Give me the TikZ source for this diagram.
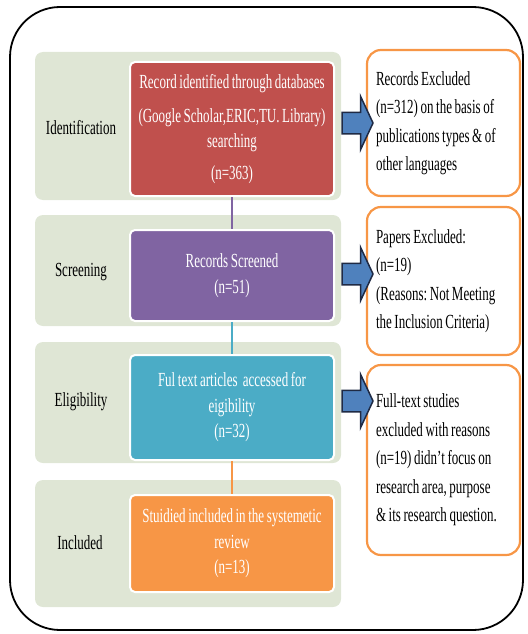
\documentclass[tikz,border=0pt]{standalone}
\usepackage{fontspec}
\setmainfont{Liberation Serif}[FakeStretch=0.65, WordSpace=0.8]
\usepackage{xcolor}
\usepackage{tikz}
\usetikzlibrary{arrows.meta, positioning, shapes.arrows}
\definecolor{bandgreen}{HTML}{DFE6D5}
\definecolor{idred}{HTML}{C0504D}
\definecolor{scrpurple}{HTML}{8064A2}
\definecolor{eligteal}{HTML}{4BACC6}
\definecolor{inclorange}{HTML}{F79646}
\definecolor{arrowblue}{HTML}{4F81BD}
\definecolor{arrowdark}{HTML}{1F2A44}
\frenchspacing
\tikzstyle{band} = [rectangle, rounded corners=8pt, fill=bandgreen, minimum width=306pt]
\tikzstyle{phase} = [text=black, font=\fontsize{20}{26}\selectfont]
\tikzstyle{stage} = [rectangle, rounded corners=5pt, draw=white, line width=2pt, text=white, align=center, minimum width=204pt, font=\fontsize{20}{25.5}\selectfont]
\tikzstyle{excl} = [rectangle, rounded corners=14pt, draw=inclorange, line width=2.2pt, fill=white, align=flush left, minimum width=153pt, text width=135pt, font=\fontsize{20}{28.5}\selectfont]
\tikzstyle{blockarrow} = [single arrow, draw=arrowdark, fill=arrowblue, line width=1.5pt, inner sep=0pt, inner ysep=10pt, minimum height=31pt, single arrow head extend=16pt, single arrow tip angle=130]
\tikzstyle{link} = [line width=1.5pt]

\begin{document}
\begin{tikzpicture}[x=1pt, y=-1pt]
\useasboundingbox (0,0) rectangle (527,634);
% Frame
\node (frame) [draw=black, line width=1.8pt, rounded corners=50pt, minimum width=513pt, minimum height=623pt] at (266.5,318.5) {};

% Phase bands
\node (bandA) [band, minimum height=148pt] at (188,126) {};
\node (bandB) [band, minimum height=111pt] at (188,270.5) {};
\node (bandC) [band, minimum height=121pt] at (188,402.5) {};
\node (bandD) [band, minimum height=127pt] at (188,543.5) {};

\node (labA) [phase] at (81,128) {Identification};
\node (labB) [phase] at (81,272) {Screening};
\node (labC) [phase] at (81,402) {Eligibility};
\node (labD) [phase] at (80,543) {Included};

% Stage boxes
\node (ident) [stage, fill=idred, minimum height=134pt] at (232,129) {Record identified through databases\\[8pt] (Google Scholar,ERIC,TU. Library)\\ searching\\[6pt] (n=363)};
\node (screen) [stage, fill=scrpurple, minimum height=91pt] at (232,275.5) {Records Screened\\ (n=51)};
\node (elig) [stage, fill=eligteal, minimum height=105pt] at (232,407.5) {Ful text articles\ \ accessed for\\ eigibility\\ (n=32)};
\node (incl) [stage, fill=inclorange, minimum height=97pt] at (232,543.5) {Stuidied included in the systemetic\\ review\\ (n=13)};

% Exclusion boxes
\node (exA) [excl, minimum height=146pt] at (443.5,123) {Records Excluded\\ (n=312) on the basis of\\ publications types \& of\\ other languages};
\node (exB) [excl, minimum height=148pt] at (443.5,281) {Papers Excluded:\\ (n=19)\\ (Reasons: Not Meeting\\ the Inclusion Criteria)};
\node (exC) [excl, minimum height=190pt] at (443.5,460) {Full-text studies\\ excluded with reasons\\ (n=19) didn’t focus on\\ research area, purpose\\ \& its research question.};

% Paths
\draw [link, scrpurple] (ident) -- (screen);
\draw [link, eligteal] (screen) -- (elig);
\draw [link, inclorange] (elig) -- (incl);

\node (arrA) [blockarrow] at (355,123) {};
\node (arrB) [blockarrow] at (355,274) {};
\node (arrC) [blockarrow] at (355,401) {};

\end{tikzpicture}
\end{document}
